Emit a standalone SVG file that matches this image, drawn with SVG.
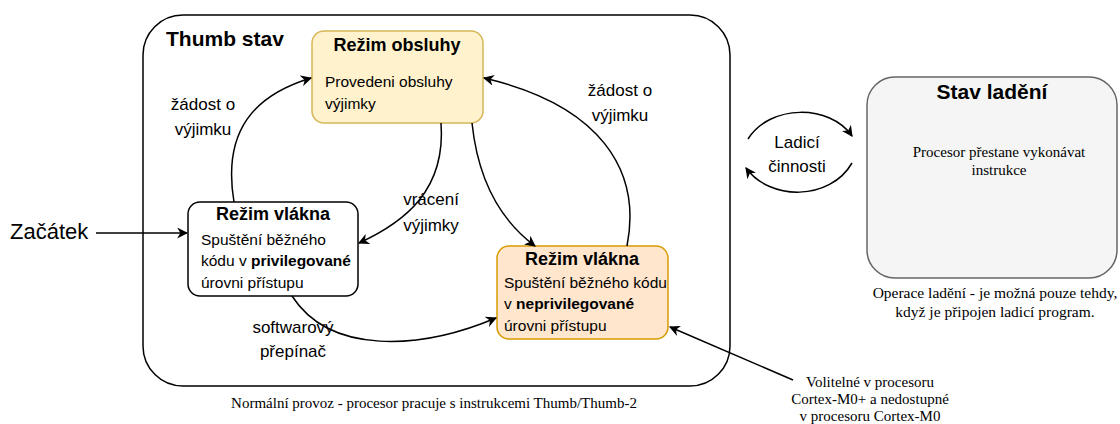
<svg xmlns="http://www.w3.org/2000/svg" width="1120" height="424" viewBox="0 0 1120 424">
<style>
.sans{font-family:"Liberation Sans",Arial,sans-serif;fill:#000}
.serif{font-family:"Liberation Serif","Times New Roman",serif;fill:#000}
.b{font-weight:bold}
.title{font-size:18px;font-weight:bold}
.body{font-size:15.5px}
.lbl{font-size:17px}
.note{font-size:15px}
.conn{fill:none;stroke:#000;stroke-width:1.5}
</style>
<defs>
<marker id="arr" viewBox="0 0 10 10" refX="9" refY="5" markerWidth="11" markerHeight="11" markerUnits="userSpaceOnUse" orient="auto">
<path d="M0,0 L10,5 L0,10 L3,5 z" fill="#000"/>
</marker>
</defs>
<rect width="1120" height="424" fill="#fff"/>

<g id="thumb-state">
<rect x="143" y="15" width="587" height="371" rx="40" fill="#fff" stroke="#000" stroke-width="1.5"/>
<text x="166" y="46" class="sans b" font-size="21">Thumb stav</text>
<text x="434" y="408" class="serif note" text-anchor="middle">Normální provoz - procesor pracuje s instrukcemi Thumb/Thumb-2</text>
</g>

<g id="handler-mode">
<rect x="312" y="31" width="171" height="92" rx="12" fill="#fff2cc" stroke="#d6b656" stroke-width="1.5"/>
<text x="397" y="51" class="sans title" text-anchor="middle">Režim obsluhy</text>
<text x="325" y="87" class="sans body">Provedeni obsluhy</text>
<text x="325" y="109" class="sans body">výjimky</text>
</g>

<g id="thread-privileged">
<rect x="188" y="202" width="170" height="94" rx="12" fill="#fff" stroke="#000" stroke-width="1.5"/>
<text x="273" y="220" class="sans title" text-anchor="middle">Režim vlákna</text>
<text x="201" y="245" class="sans body">Spuštění běžného</text>
<text x="201" y="266" class="sans body">kódu v <tspan class="b">privilegované</tspan></text>
<text x="201" y="288" class="sans body">úrovni přístupu</text>
</g>

<g id="thread-unprivileged">
<rect x="497" y="246" width="171" height="93" rx="12" fill="#ffe6cc" stroke="#d79b00" stroke-width="1.5"/>
<text x="582" y="265" class="sans title" text-anchor="middle">Režim vlákna</text>
<text x="504" y="288" class="sans body">Spuštění běžného kódu</text>
<text x="504" y="309" class="sans body">v <tspan class="b">neprivilegované</tspan></text>
<text x="504" y="331" class="sans body">úrovni přístupu</text>
</g>

<g id="debug-state">
<rect x="867" y="77" width="250" height="201" rx="28" fill="#f5f5f5" stroke="#666" stroke-width="1.5"/>
<text x="992" y="99" class="sans b" font-size="21" text-anchor="middle">Stav ladění</text>
<text x="999" y="157" class="serif note" text-anchor="middle">Procesor přestane vykonávat</text>
<text x="999" y="175" class="serif note" text-anchor="middle">instrukce</text>
<text x="995" y="298" class="serif" font-size="15.5" text-anchor="middle">Operace ladění - je možná pouze tehdy,</text>
<text x="995" y="317" class="serif" font-size="15.5" text-anchor="middle">když je připojen ladicí program.</text>
</g>

<g id="start">
<text x="10" y="239" class="sans" font-size="22">Začátek</text>
</g>

<g id="note">
<text x="870" y="387" class="serif note" text-anchor="middle">Volitelné v procesoru</text>
<text x="870" y="404" class="serif note" text-anchor="middle">Cortex-M0+ a nedostupné</text>
<text x="870" y="421" class="serif note" text-anchor="middle">v procesoru Cortex-M0</text>
</g>

<g id="connectors">
<path class="conn" d="M96,233 L187,233" marker-end="url(#arr)"/>
<path class="conn" d="M234,202 C222,130 255,95 311,78" marker-end="url(#arr)"/>
<path class="conn" d="M627,246 C642,170 600,105 484,78" marker-end="url(#arr)"/>
<path class="conn" d="M441,123 C446,190 405,222 359,243" marker-end="url(#arr)"/>
<path class="conn" d="M472,123 C478,180 500,220 535,246" marker-end="url(#arr)"/>
<path class="conn" d="M292,296 C330,355 420,350 496,318" marker-end="url(#arr)"/>
<path class="conn" d="M793,380 L670,327" marker-end="url(#arr)"/>
<path class="conn" d="M748,139 C770,104 830,104 852,136" marker-end="url(#arr)"/>
<path class="conn" d="M852,163 C830,201 770,201 746,168" marker-end="url(#arr)"/>
<text x="203" y="110" class="sans lbl" text-anchor="middle">žádost o</text>
<text x="203" y="135" class="sans lbl" text-anchor="middle">výjimku</text>
<text x="620" y="96" class="sans lbl" text-anchor="middle">žádost o</text>
<text x="620" y="121" class="sans lbl" text-anchor="middle">výjimku</text>
<text x="431" y="205" class="sans lbl" text-anchor="middle">vrácení</text>
<text x="431" y="231" class="sans lbl" text-anchor="middle">výjimky</text>
<text x="293" y="333" class="sans lbl" text-anchor="middle">softwarový</text>
<text x="293" y="357" class="sans lbl" text-anchor="middle">přepínač</text>
<text x="797" y="148" class="sans lbl" text-anchor="middle">Ladicí</text>
<text x="797" y="172" class="sans lbl" text-anchor="middle">činnosti</text>
</g>
</svg>
